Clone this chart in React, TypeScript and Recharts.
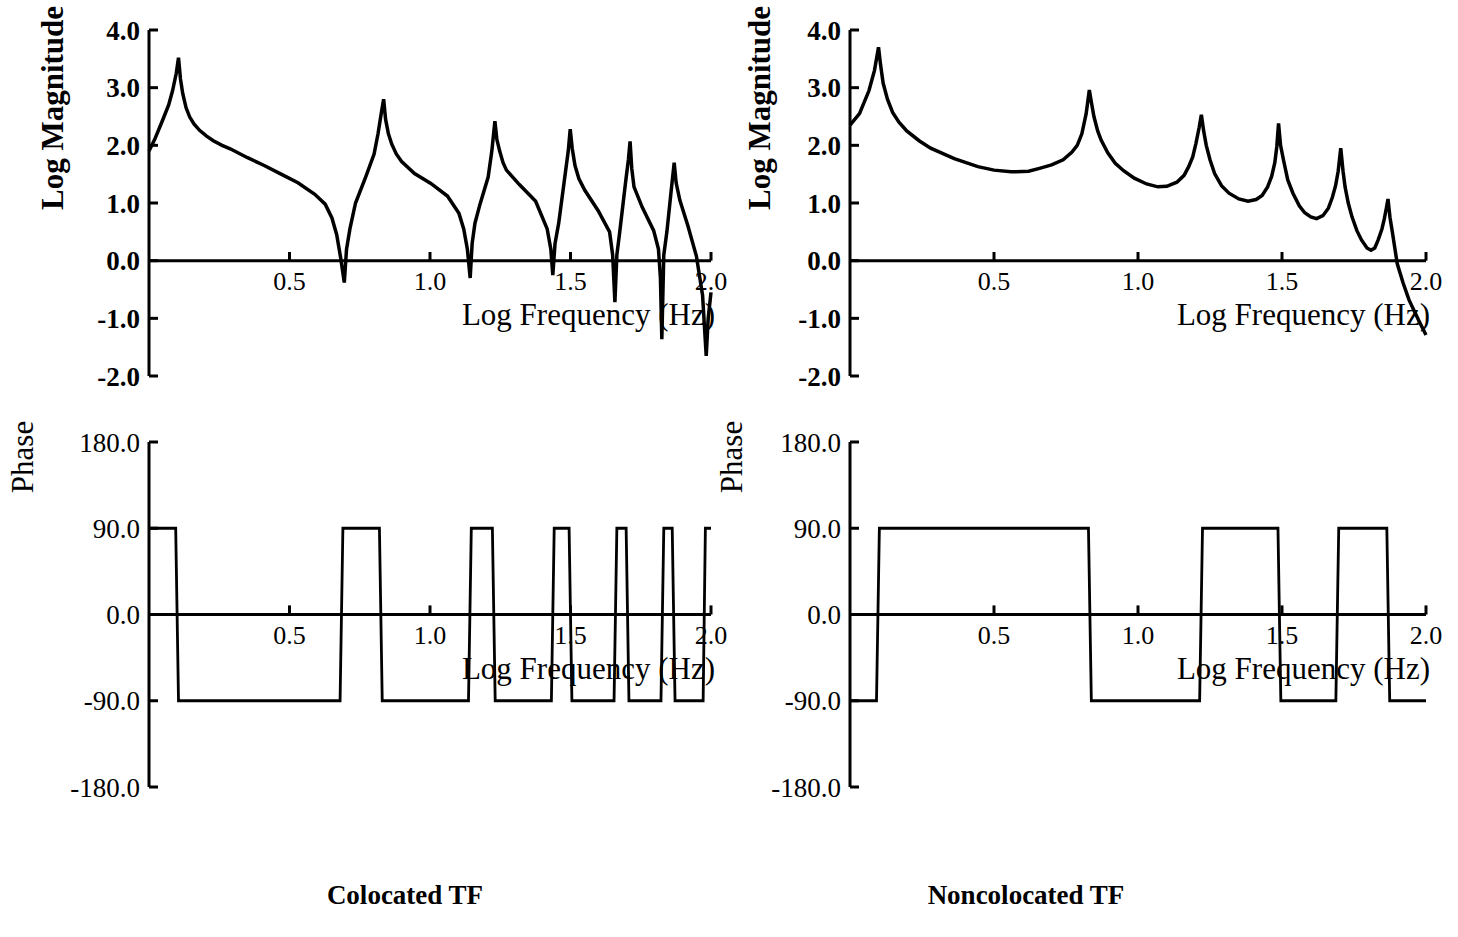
import { LineChart, Line, XAxis, YAxis, ReferenceLine } from 'recharts';

const FONT = "'Liberation Serif', 'Times New Roman', serif";

const freqTicks = [0.5, 1.0, 1.5, 2.0];
const magTicks = [-2, -1, 0, 1, 2, 3, 4];
const phaseTicks = [-180, -90, 0, 90, 180];

// colocated transfer function, log magnitude
const colocatedMagFreq = [
  0, 0.02, 0.048, 0.07, 0.084, 0.097, 0.105,
  0.112, 0.12, 0.132, 0.145, 0.16, 0.18, 0.205, 0.229, 0.26, 0.289, 0.349, 0.41, 0.47, 0.53, 0.59, 0.627, 0.651, 0.668, 0.682, 0.695,
  0.703, 0.715, 0.735, 0.771, 0.801, 0.815, 0.828, 0.835,
  0.842, 0.852, 0.864, 0.88, 0.899, 0.945, 1.003, 1.062, 1.103, 1.12, 1.133, 1.143,
  1.15, 1.16, 1.178, 1.207, 1.22, 1.231,
  1.238, 1.248, 1.26, 1.272, 1.318, 1.376, 1.417, 1.43, 1.437,
  1.445, 1.458, 1.481, 1.492, 1.499,
  1.506, 1.516, 1.53, 1.551, 1.598, 1.639, 1.65, 1.658,
  1.665, 1.674, 1.697, 1.706, 1.712,
  1.718, 1.726, 1.755, 1.796, 1.813, 1.82, 1.825,
  1.832, 1.843, 1.858, 1.869,
  1.876, 1.889, 1.918, 1.948, 1.97, 1.983,
  1.99, 2.0,
];
const colocatedMag = [
  1.9, 2.1, 2.43, 2.7, 2.95, 3.25, 3.52,
  3.15, 2.9, 2.65, 2.49, 2.37, 2.26, 2.16, 2.08, 2.0, 1.94, 1.79, 1.65, 1.5, 1.35, 1.15, 0.98, 0.74, 0.45, 0.05, -0.38,
  0.2, 0.55, 1.0, 1.45, 1.85, 2.2, 2.6, 2.8,
  2.45, 2.2, 2.02, 1.85, 1.72, 1.51, 1.34, 1.12, 0.82, 0.55, 0.2, -0.3,
  0.3, 0.65, 0.98, 1.45, 1.9, 2.42,
  2.1, 1.9, 1.7, 1.57, 1.32, 1.03, 0.55, 0.2, -0.25,
  0.3, 0.65, 1.5, 1.9, 2.28,
  1.95, 1.65, 1.42, 1.22, 0.87, 0.5, 0.1, -0.72,
  0.1, 0.45, 1.4, 1.75, 2.07,
  1.6, 1.28, 0.93, 0.52, 0.2, -0.3, -1.36,
  0.1, 0.5, 1.2, 1.7,
  1.35, 1.05, 0.6, 0.08, -0.6, -1.65,
  -1.0, -0.55,
];

// noncolocated transfer function, log magnitude
const noncolocatedMagFreq = [
  0, 0.033, 0.066, 0.085, 0.099,
  0.106, 0.115, 0.13, 0.148, 0.17, 0.197, 0.24, 0.28, 0.362, 0.444, 0.5, 0.559, 0.62, 0.658, 0.7, 0.74, 0.77, 0.789, 0.805, 0.82, 0.831,
  0.838, 0.847, 0.86, 0.872, 0.895, 0.921, 0.95, 0.987, 1.03, 1.069, 1.1, 1.135, 1.16, 1.176, 1.19, 1.201, 1.212, 1.22,
  1.228, 1.237, 1.25, 1.266, 1.29, 1.316, 1.35, 1.382, 1.41, 1.431, 1.45, 1.464, 1.475, 1.482, 1.488,
  1.495, 1.505, 1.52, 1.538, 1.56, 1.579, 1.6, 1.62, 1.642, 1.661, 1.675, 1.686, 1.695, 1.704,
  1.712, 1.719, 1.73, 1.743, 1.76, 1.776, 1.795, 1.809, 1.822, 1.834, 1.847, 1.855, 1.862, 1.868,
  1.875, 1.883, 1.9, 1.92, 1.941, 1.974, 2.0,
];
const noncolocatedMag = [
  2.35, 2.55, 2.95, 3.3, 3.7,
  3.4, 3.08, 2.8, 2.57, 2.4, 2.25, 2.08, 1.95, 1.77, 1.63, 1.57, 1.54, 1.55, 1.6, 1.66, 1.75, 1.88, 2.0, 2.2, 2.55, 2.96,
  2.75, 2.5, 2.25, 2.09, 1.87, 1.69, 1.56, 1.43, 1.33, 1.28, 1.29, 1.36, 1.48, 1.63, 1.8, 2.03, 2.3, 2.53,
  2.25, 2.0, 1.75, 1.51, 1.3, 1.17, 1.07, 1.03, 1.06, 1.13, 1.28, 1.46, 1.7, 1.98, 2.38,
  2.0, 1.75, 1.4, 1.17, 0.95, 0.83, 0.76, 0.73, 0.78, 0.91, 1.1, 1.3, 1.55, 1.95,
  1.55, 1.28, 1.0, 0.76, 0.52, 0.36, 0.22, 0.18, 0.22, 0.36, 0.55, 0.72, 0.9, 1.07,
  0.75, 0.5, -0.05, -0.38, -0.68, -1.03, -1.29,
];

// phase, degrees
const colocatedPhaseFreq = [
  0, 0.095, 0.105, 0.68, 0.69, 0.82, 0.83, 1.137, 1.147, 1.222, 1.232, 1.432, 1.442,
  1.495, 1.505, 1.655, 1.665, 1.698, 1.708, 1.822, 1.832, 1.862, 1.872, 1.972, 1.98, 2.0,
];
const colocatedPhase = [
  90, 90, -90, -90, 90, 90, -90, -90, 90, 90, -90, -90, 90,
  90, -90, -90, 90, 90, -90, -90, 90, 90, -90, -90, 90, 90,
];
const noncolocatedPhaseFreq = [0, 0.092, 0.102, 0.828, 0.838, 1.214, 1.224, 1.486, 1.496, 1.687, 1.697, 1.864, 1.874, 2.0];
const noncolocatedPhase = [-90, -90, 90, 90, -90, -90, 90, 90, -90, -90, 90, 90, -90, -90];

const zip = (xs: number[], ys: number[]) => xs.map((x, i) => ({ x, y: ys[i] }));

interface PanelProps {
  left: number;
  top: number;
  width: number;
  height: number;
  margin: { top: number; right: number; bottom: number; left: number };
  axisWidth: number;
  data: { x: number; y: number }[];
  domain: [number, number];
  yTicks: number[];
  tickRise: number;
  yLabel: string;
  yLabelDx: number;
  yLabelDy: number;
  lineWidth: number;
  bold: boolean;
}

function Panel(p: PanelProps) {
  const weight = p.bold ? 700 : 400;
  return (
    <div style={{ position: 'absolute', left: p.left, top: p.top }}>
      <LineChart width={p.width} height={p.height} data={p.data} margin={p.margin}>
        <XAxis type="number" dataKey="x" domain={[0, 2]} hide />
        <YAxis
          type="number"
          domain={p.domain}
          ticks={p.yTicks}
          interval={0}
          width={p.axisWidth}
          tickFormatter={(v: number) => v.toFixed(1)}
          axisLine={{ stroke: '#000', strokeWidth: 3 }}
          tickLine={{ stroke: '#000', strokeWidth: 3 }}
          tickSize={-9}
          tickMargin={18}
          tick={{ fill: '#000', fontSize: 27, fontFamily: FONT, fontWeight: weight }}
          label={{
            content: (lp: any) => {
              const vb = lp.viewBox;
              const cx = vb.x + vb.width + p.yLabelDx;
              const cy = vb.y + p.yLabelDy;
              return (
                <text
                  x={cx}
                  y={cy}
                  transform={`rotate(-90 ${cx} ${cy})`}
                  textAnchor="middle"
                  dominantBaseline="central"
                  fill="#000"
                  fontSize={31}
                  fontFamily={FONT}
                  fontWeight={weight}
                >
                  {p.yLabel}
                </text>
              );
            },
          }}
        />
        <ReferenceLine
          y={0}
          stroke="#000"
          strokeWidth={3}
          label={{
            content: (lp: any) => {
              const vb = lp.viewBox;
              return (
                <text
                  x={vb.x + vb.width + 4}
                  y={vb.y + 64}
                  textAnchor="end"
                  fill="#000"
                  fontSize={31}
                  fontFamily={FONT}
                >
                  Log Frequency (Hz)
                </text>
              );
            },
          }}
        />
        {freqTicks.map(t => (
          <ReferenceLine
            key={t}
            segment={[{ x: t, y: 0 }, { x: t, y: p.tickRise }]}
            stroke="#000"
            strokeWidth={3}
            label={{
              content: (lp: any) => {
                const vb = lp.viewBox;
                return (
                  <text
                    x={vb.x}
                    y={vb.y + vb.height + 29}
                    textAnchor="middle"
                    fill="#000"
                    fontSize={26}
                    fontFamily={FONT}
                  >
                    {t.toFixed(1)}
                  </text>
                );
              },
            }}
          />
        ))}
        <Line
          type="linear"
          dataKey="y"
          stroke="#000"
          strokeWidth={p.lineWidth}
          dot={false}
          isAnimationActive={false}
        />
      </LineChart>
    </div>
  );
}

const captionStyle: React.CSSProperties = {
  position: 'absolute',
  top: 880,
  transform: 'translateX(-50%)',
  fontFamily: FONT,
  fontSize: 27,
  fontWeight: 700,
  whiteSpace: 'nowrap',
};

export default function App() {
  return (
    <div style={{ position: 'absolute', left: 0, top: 0, width: 1458, height: 937, background: '#fff' }}>
      <Panel
        left={0}
        top={0}
        width={740}
        height={400}
        margin={{ top: 30, right: 29, bottom: 24, left: 0 }}
        axisWidth={149}
        data={zip(colocatedMagFreq, colocatedMag)}
        domain={[-2, 4]}
        yTicks={magTicks}
        tickRise={0.15}
        yLabel="Log Magnitude"
        yLabelDx={-97}
        yLabelDy={78}
        lineWidth={3.5}
        bold
      />
      <Panel
        left={700}
        top={0}
        width={758}
        height={400}
        margin={{ top: 30, right: 32, bottom: 24, left: 0 }}
        axisWidth={150}
        data={zip(noncolocatedMagFreq, noncolocatedMag)}
        domain={[-2, 4]}
        yTicks={magTicks}
        tickRise={0.15}
        yLabel="Log Magnitude"
        yLabelDx={-91}
        yLabelDy={78}
        lineWidth={3.5}
        bold
      />
      <Panel
        left={0}
        top={400}
        width={740}
        height={420}
        margin={{ top: 42, right: 29, bottom: 33, left: 0 }}
        axisWidth={149}
        data={zip(colocatedPhaseFreq, colocatedPhase)}
        domain={[-180, 180]}
        yTicks={phaseTicks}
        tickRise={9.5}
        yLabel="Phase"
        yLabelDx={-127}
        yLabelDy={15}
        lineWidth={2.8}
        bold={false}
      />
      <Panel
        left={700}
        top={400}
        width={758}
        height={420}
        margin={{ top: 42, right: 32, bottom: 33, left: 0 }}
        axisWidth={150}
        data={zip(noncolocatedPhaseFreq, noncolocatedPhase)}
        domain={[-180, 180]}
        yTicks={phaseTicks}
        tickRise={9.5}
        yLabel="Phase"
        yLabelDx={-119}
        yLabelDy={15}
        lineWidth={2.8}
        bold={false}
      />
      <div style={{ ...captionStyle, left: 405 }}>Colocated TF</div>
      <div style={{ ...captionStyle, left: 1026 }}>Noncolocated TF</div>
    </div>
  );
}
